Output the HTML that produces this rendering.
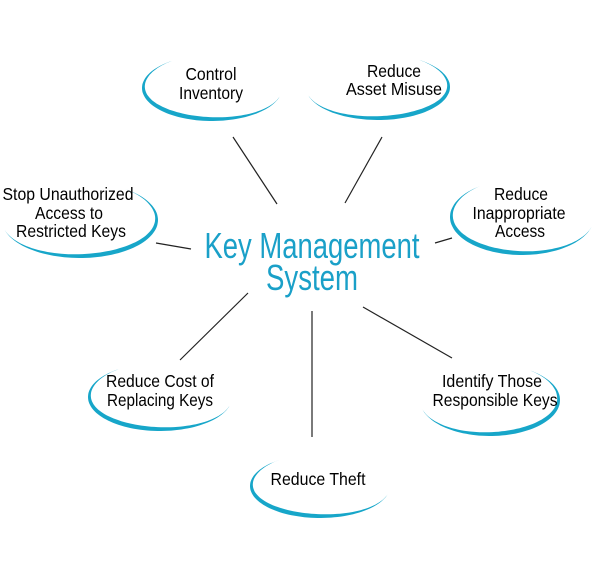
<!DOCTYPE html>
<html><head><meta charset="utf-8"><style>
html,body{margin:0;padding:0;background:#fff;width:604px;height:578px;overflow:hidden}
svg{display:block}
text{font-family:"Liberation Sans Narrow","Liberation Sans",sans-serif;fill:#000;font-size:17.5px;text-anchor:middle}
</style></head><body>
<svg id="s" width="604" height="578" viewBox="0 0 604 578">
<g id="arcs" fill="#17a6c9"></g>
<g stroke="#222" stroke-width="1.2">
<line x1="233" y1="137" x2="277" y2="204"/>
<line x1="382" y1="137" x2="345" y2="203"/>
<line x1="156" y1="243" x2="191" y2="249"/>
<line x1="435" y1="243" x2="452" y2="238"/>
<line x1="248" y1="293" x2="180" y2="360"/>
<line x1="312" y1="311" x2="312" y2="437"/>
<line x1="363" y1="307" x2="452" y2="358"/>
</g>
<text x="312" y="258" style="font-size:36px;fill:#1aa0c8" textLength="215" lengthAdjust="spacingAndGlyphs">Key Management</text>
<text x="312" y="290" style="font-size:36px;fill:#1aa0c8" textLength="92" lengthAdjust="spacingAndGlyphs">System</text>
<g>
<text x="211" y="80" textLength="51" lengthAdjust="spacingAndGlyphs">Control</text>
<text x="211" y="99" textLength="64" lengthAdjust="spacingAndGlyphs">Inventory</text>
<text x="394" y="77" textLength="54" lengthAdjust="spacingAndGlyphs">Reduce</text>
<text x="394" y="95" textLength="96" lengthAdjust="spacingAndGlyphs">Asset Misuse</text>
<text x="68" y="200" textLength="131" lengthAdjust="spacingAndGlyphs">Stop Unauthorized</text>
<text x="69" y="219" textLength="68" lengthAdjust="spacingAndGlyphs">Access to</text>
<text x="71" y="237" textLength="110" lengthAdjust="spacingAndGlyphs">Restricted Keys</text>
<text x="521" y="200" textLength="54" lengthAdjust="spacingAndGlyphs">Reduce</text>
<text x="519" y="219" textLength="93" lengthAdjust="spacingAndGlyphs">Inappropriate</text>
<text x="520" y="237" textLength="50" lengthAdjust="spacingAndGlyphs">Access</text>
<text x="160" y="387" textLength="108" lengthAdjust="spacingAndGlyphs">Reduce Cost of</text>
<text x="160" y="406" textLength="106" lengthAdjust="spacingAndGlyphs">Replacing Keys</text>
<text x="492" y="387" textLength="100" lengthAdjust="spacingAndGlyphs">Identify Those</text>
<text x="495" y="406" textLength="125" lengthAdjust="spacingAndGlyphs">Responsible Keys</text>
<text x="318" y="485" textLength="95" lengthAdjust="spacingAndGlyphs">Reduce Theft</text>
</g>
</svg>
<script>
(function(){
var g=document.getElementById('arcs');
function arc(cx,cy,rx,ry,a1,a2,w){
 var N=80,o=[],inn=[];
 for(var i=0;i<=N;i++){
  var f=i/N,t=(a1+(a2-a1)*f)*Math.PI/180;
  var th=w*Math.pow(Math.sin(Math.PI*f),1.3);
  var c=Math.cos(t),s=Math.sin(t);
  o.push([cx+rx*c,cy+ry*s]);
  inn.push([cx+(rx-th)*c,cy+(ry-th)*s]);
 }
 var d='M'+o.map(function(p){return p[0].toFixed(1)+','+p[1].toFixed(1)}).join('L');
 d+='L'+inn.reverse().map(function(p){return p[0].toFixed(1)+','+p[1].toFixed(1)}).join('L')+'Z';
 var p=document.createElementNS('http://www.w3.org/2000/svg','path');
 p.setAttribute('d',d);g.appendChild(p);
}
arc(212,88,70,33,15,235,4.5);
arc(378,87,72,33,-55,165,4.5);
arc(80,220,78,38,-55,165,4.5);
arc(522,217,72,38,15,235,4.5);
arc(160,397,72,34,15,235,4.5);
arc(490,400,70,36,-55,165,4.5);
arc(320,486,70,32,15,235,4.5);
})();
</script>
</body></html>
